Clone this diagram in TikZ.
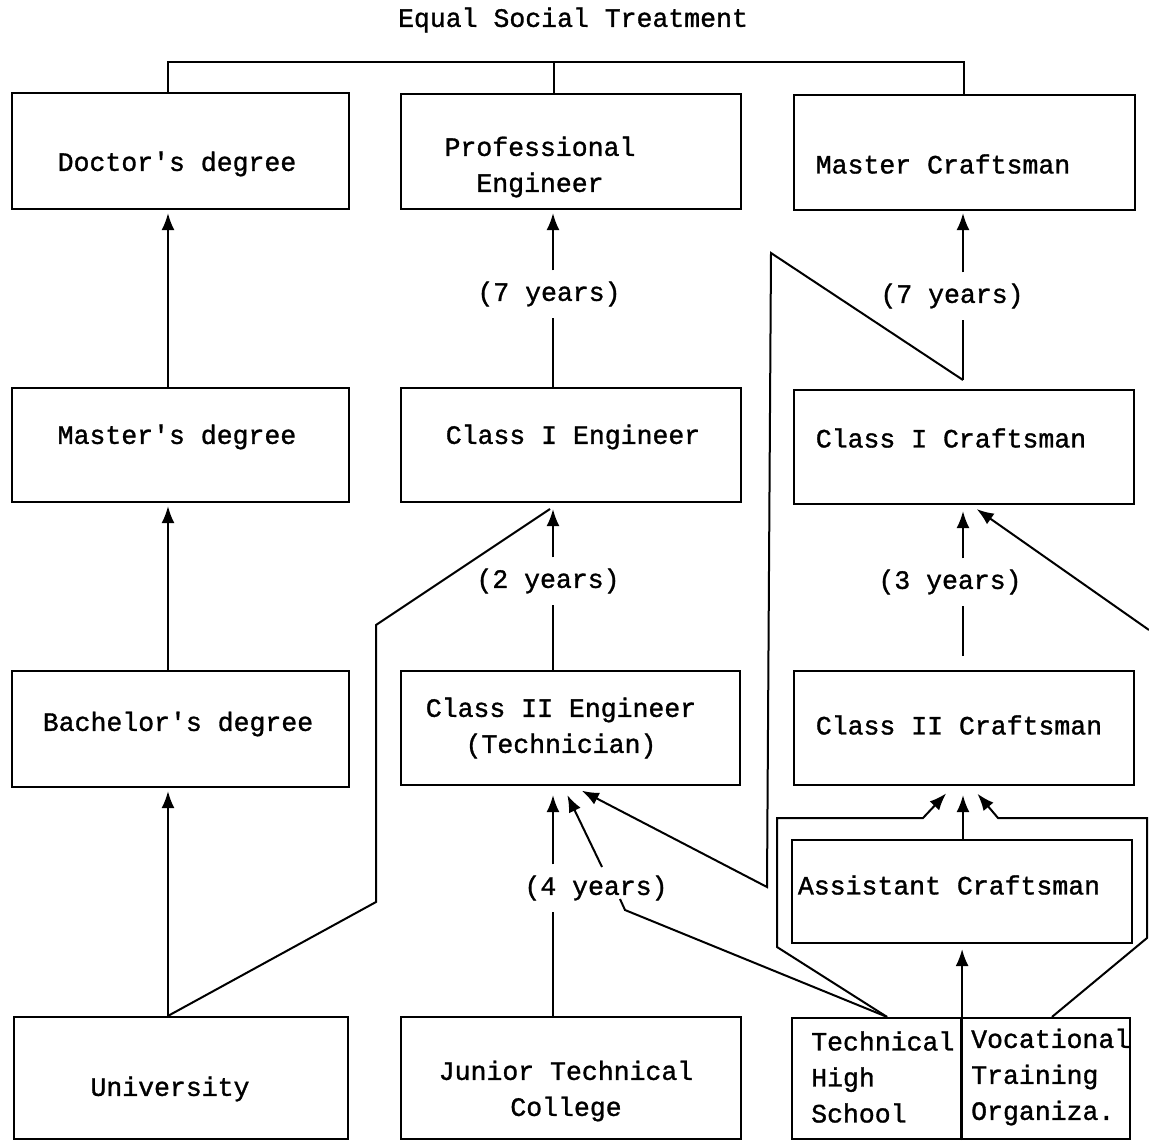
\documentclass[tikz,border=0pt]{standalone}
\usepackage{fontspec}
\setmonofont{Liberation Mono}[FakeBold=1.2]
\usetikzlibrary{arrows.meta}
\begin{document}
\begin{tikzpicture}[x=1pt,y=-1pt,
  box/.style={draw,line width=2.2pt,inner sep=0pt},
  txt/.style={inner sep=0pt,font=\ttfamily\fontsize{26.5}{36}\selectfont},
  lbl/.style={inner xsep=2pt,inner ysep=11pt,font=\ttfamily\fontsize{26.5}{36}\selectfont},
  conn/.style={line width=2pt,line join=miter},
  arr/.style={conn,-{Latex[length=17pt,width=13pt]},shorten >=4pt}]
\useasboundingbox (0,0) rectangle (1149,1141);
% boxes
\node[box,minimum width=337pt,minimum height=116pt] (doc) at (180.5,151) {};
\node[box,minimum width=340pt,minimum height=115pt] (pe)  at (571,151.5) {};
\node[box,minimum width=341pt,minimum height=115pt] (mc)  at (964.5,152.5) {};
\node[box,minimum width=337pt,minimum height=114pt] (ms)  at (180.5,445) {};
\node[box,minimum width=340pt,minimum height=114pt] (c1e) at (571,445) {};
\node[box,minimum width=340pt,minimum height=114pt] (c1c) at (964,447) {};
\node[box,minimum width=337pt,minimum height=116pt] (ba)  at (180.5,729) {};
\node[box,minimum width=339pt,minimum height=114pt] (c2e) at (570.5,728) {};
\node[box,minimum width=340pt,minimum height=114pt] (c2c) at (964,728) {};
\node[box,minimum width=340pt,minimum height=103pt] (ac)  at (962,891.5) {};
\node[box,minimum width=334pt,minimum height=122pt] (uni) at (181,1078) {};
\node[box,minimum width=340pt,minimum height=122pt] (jtc) at (571,1078) {};
\node[box,minimum width=169pt,minimum height=121pt] (ths) at (876.5,1078.5) {};
\node[box,minimum width=169pt,minimum height=121pt] (vto) at (1045.5,1078.5) {};
% texts
\node[txt] (title) at (573,20) {Equal Social Treatment};
\node[txt] (t-doc) at (177,164) {Doctor's degree};
\node[txt,align=center] (t-pe) at (540,167) {Professional\\Engineer};
\node[txt] (t-mc) at (943,164) {Master Craftsman};
\node[txt] (t-ms) at (177,437) {Master's degree};
\node[txt] (t-c1e) at (573,437) {Class I Engineer};
\node[txt] (t-c1c) at (951,438) {Class I Craftsman};
\node[txt] (t-ba) at (178,724) {Bachelor's degree};
\node[txt,align=center] (t-c2e) at (561,728) {Class II Engineer\\(Technician)};
\node[txt] (t-c2c) at (959,725) {Class II Craftsman};
\node[txt] (t-ac) at (949,885) {Assistant Craftsman};
\node[txt] (t-uni) at (170,1089) {University};
\node[txt,align=center] (t-jtc) at (566,1091) {Junior Technical\\College};
\node[txt,align=left,anchor=west] (t-ths) at (811,1077) {Technical\\High\\School};
\node[txt,align=left,anchor=west] (t-vto) at (971,1077) {Vocational\\Training\\Organiza.};
% labels
\node[lbl] (y7e) at (549,294) {(7 years)};
\node[lbl] (y2)  at (548,581) {(2 years)};
\node[lbl] (y4)  at (596,888) {(4 years)};
\node[lbl] (y7c) at (952,296) {(7 years)};
\node[lbl] (y3)  at (950,582) {(3 years)};
% coordinates
\coordinate (xA) at (168,0);
\coordinate (xB) at (553,0);
\coordinate (xB2) at (563,0);
\coordinate (xB3) at (573,0);
\coordinate (xC) at (963,0);
\coordinate (xCl) at (953,0);
\coordinate (xCr) at (971,0);
\coordinate (xT) at (887,0);
\coordinate (xV) at (1052,0);
\coordinate (bus1) at (168,62);
\coordinate (bus2) at (554,62);
\coordinate (bus3) at (964,62);
\coordinate (u1) at (376,902);
\coordinate (u2) at (376,625);
\coordinate (u3) at (550,509);
\coordinate (k1) at (602,867);
\coordinate (k2) at (625,910);
\coordinate (k3) at (620,899);
\coordinate (z0) at (963,380);
\coordinate (z1) at (771,253);
\coordinate (z2) at (767,887);
\coordinate (z3) at (963,656);
\coordinate (r0) at (1149,630);
\coordinate (l1) at (777,947);
\coordinate (l2) at (777,818);
\coordinate (l3) at (923,818);
\coordinate (r1) at (1147,938);
\coordinate (r2) at (1147,818);
\coordinate (r3) at (998,818);
% top bus
\draw[conn] (doc.north -| bus1) -- (bus1) -- (bus3) -- (mc.north -| bus3);
\draw[conn] (bus2) -- (pe.north -| bus2);
% column 1
\draw[arr,shorten >=3pt] (ms.north -| xA) -- (doc.south -| xA);
\draw[arr,shorten >=3pt] (ba.north -| xA) -- (ms.south -| xA);
\draw[arr,shorten >=3pt] (uni.north -| xA) -- (ba.south -| xA);
\draw[conn] (uni.north -| xA) -- (u1) -- (u2) -- (u3);
% column 2
\draw[conn] (c1e.north -| xB) -- (y7e.south -| xB);
\draw[arr,shorten >=3pt] (y7e.north -| xB) -- (pe.south -| xB);
\draw[conn] (c2e.north -| xB) -- (y2.south -| xB);
\draw[arr,shorten >=6pt] (y2.north -| xB) -- (c1e.south -| xB);
\draw[conn] (jtc.north -| xB) -- (y4.south -| xB);
\draw[arr,shorten >=9pt] (y4.north -| xB) -- (c2e.south -| xB);
\draw[arr,shorten >=10pt] (k1) -- (c2e.south -| xB2);
\draw[conn] (ths.north -| xT) -- (k2) -- (k3);
\draw[arr,shorten >=10pt] (z0) -- (z1) -- (z2) -- (c2e.south -| xB3);
% column 3
\draw[conn] (z0) -- (y7c.south -| xC);
\draw[arr,shorten >=2pt] (y7c.north -| xC) -- (mc.south -| xC);
\draw[conn] (z3) -- (y3.south -| xC);
\draw[arr,shorten >=6pt] (y3.north -| xC) -- (c1c.south -| xC);
\draw[arr,shorten >=7pt] (r0) -- (c1c.south -| xCr);
\draw[arr,shorten >=9pt] (ac.north -| xC) -- (c2c.south -| xC);
\draw[arr,shorten >=10pt] (ths.north -| xT) -- (l1) -- (l2) -- (l3) -- (c2c.south -| xCl);
\draw[arr,shorten >=10pt] (vto.north -| xV) -- (r1) -- (r2) -- (r3) -- (c2c.south -| xCr);
\draw[arr,shorten >=5pt] (ths.south east) -- (ac.south -| ths.south east);
\end{tikzpicture}
\end{document}
